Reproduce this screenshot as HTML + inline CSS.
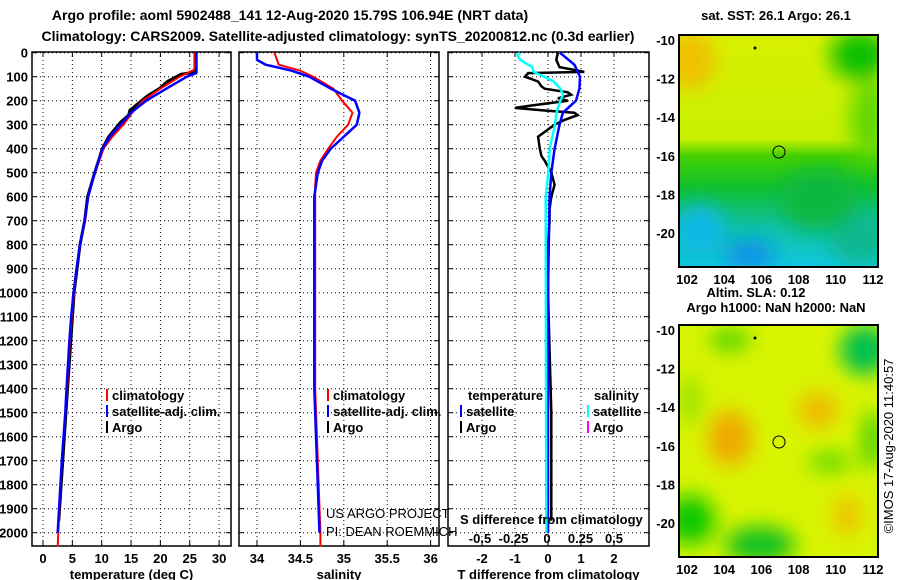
<!DOCTYPE html>
<html><head><meta charset="utf-8"><style>
html,body{margin:0;padding:0;background:#fff;}
svg{display:block;font-family:"Liberation Sans",sans-serif;}
.b{font-weight:bold;font-size:13px;}
.t{font-weight:bold;font-size:14px;}
</style></head><body>
<svg id="c" width="900" height="580" viewBox="0 0 900 580">
<defs>
<linearGradient id="sstg" x1="0" y1="0" x2="0" y2="1">
<stop offset="0" stop-color="#d8f000"/><stop offset="0.45" stop-color="#c8f000"/>
<stop offset="0.52" stop-color="#44d000"/><stop offset="0.66" stop-color="#10c030"/>
<stop offset="0.82" stop-color="#10c0a0"/><stop offset="1" stop-color="#10c8e0"/></linearGradient>
<filter id="bl" x="-50%" y="-50%" width="200%" height="200%"><feGaussianBlur stdDeviation="10"/></filter>
<clipPath id="m1"><rect x="679" y="35" width="199" height="232"/></clipPath>
<clipPath id="m2"><rect x="679" y="325" width="199" height="232"/></clipPath>
</defs>
<text class="t" x="290" y="20" text-anchor="middle">Argo profile: aoml 5902488_141 12-Aug-2020 15.79S 106.94E (NRT data)</text>
<text class="t" x="338" y="41" text-anchor="middle">Climatology: CARS2009. Satellite-adjusted climatology: synTS_20200812.nc (0.3d earlier)</text>
<g id="plots"></g>
<g clip-path="url(#m1)">
<rect x="679" y="35" width="199" height="232" fill="url(#sstg)"/>
<g filter="url(#bl)">
<ellipse cx="690" cy="60" rx="25" ry="30" fill="#f0c000"/>
<ellipse cx="860" cy="55" rx="30" ry="25" fill="#10c000"/>
<ellipse cx="870" cy="120" rx="20" ry="40" fill="#60d800"/>
<ellipse cx="750" cy="255" rx="25" ry="15" fill="#1090e8"/>
<ellipse cx="700" cy="230" rx="25" ry="25" fill="#10b8e8"/>
<ellipse cx="860" cy="240" rx="30" ry="25" fill="#10b890"/>
<ellipse cx="820" cy="200" rx="40" ry="30" fill="#10b840"/>
</g>
</g>
<rect x="679" y="35" width="199" height="232" fill="none" stroke="#000" stroke-width="2"/>
<circle cx="779" cy="152" r="6" fill="none" stroke="#000"/>
<circle cx="755" cy="48" r="1.5" fill="#000"/>
<g clip-path="url(#m2)">
<rect x="679" y="325" width="199" height="232" fill="#d8f400"/>
<g filter="url(#bl)">
<ellipse cx="730" cy="438" rx="22" ry="28" fill="#f0a800"/>
<ellipse cx="818" cy="410" rx="20" ry="18" fill="#f0b800"/>
<ellipse cx="847" cy="515" rx="14" ry="20" fill="#f0c000"/>
<ellipse cx="865" cy="350" rx="25" ry="25" fill="#00c050"/>
<ellipse cx="690" cy="520" rx="25" ry="25" fill="#10c800"/>
<ellipse cx="760" cy="545" rx="35" ry="18" fill="#10c020"/>
<ellipse cx="830" cy="462" rx="22" ry="10" fill="#60d800"/>
<ellipse cx="872" cy="440" rx="10" ry="30" fill="#40d000"/>
<ellipse cx="730" cy="340" rx="20" ry="10" fill="#40d000"/>
<ellipse cx="690" cy="400" rx="10" ry="25" fill="#90e000"/>
</g>
</g>
<rect x="679" y="325" width="199" height="232" fill="none" stroke="#000" stroke-width="2"/>
<circle cx="779" cy="442" r="6" fill="none" stroke="#000"/>
<circle cx="755" cy="338" r="1.5" fill="#000"/>
<text class="b" x="776" y="20" text-anchor="middle">sat. SST: 26.1 Argo: 26.1</text>
<text class="b" x="756" y="297" text-anchor="middle">Altim. SLA: 0.12</text>
<text class="b" x="776" y="312" text-anchor="middle">Argo h1000: NaN h2000: NaN</text>
<text x="893" y="446" font-size="13" text-anchor="middle" transform="rotate(-90 893 446)">©IMOS 17-Aug-2020 11:40:57</text>
</svg>
<script>
const depthTicks=[0,100,200,300,400,500,600,700,800,900,1000,1100,1200,1300,1400,1500,1600,1700,1800,1900,2000];
const tTicks=[0,5,10,15,20,25,30];
const sTicks=[34,34.5,35,35.5,36];
const dTicks=[-2,-1,0,1,2];
const sdTickLabels=['-0.5','-0.25','0','0.25','0.5'];
const sdTicks=[-0.5,-0.25,0,0.25,0.5];
const latTicks=[-10,-12,-14,-16,-18,-20];
const lonTicks=[102,104,106,108,110,112];
const tClimDepth=[0,70,100,150,200,250,300,350,400,500,600,700,800,900,1000,1100,1200,1400,1500,1700,2000,2057];
const tClim=[25.8,25.8,23.3,20,17,15.2,13.7,11.8,10.3,8.9,7.7,7.2,6.3,5.7,5.3,4.9,4.6,4.1,3.8,3.2,2.6,2.5];
const tSatDepth=[0,85,100,150,200,250,300,350,400,500,600,700,800,900,1000,1100,1200,1400,1500,1700,2000];
const tSat=[26.1,26.1,24.5,21,17.6,15,13.2,11.4,10.1,8.8,7.7,7.1,6.3,5.7,5.2,4.8,4.5,4.0,3.8,3.2,2.5];
const tArgoDepth=[0,80,90,120,150,180,200,240,260,290,320,350,400,500,600,700,800,1000,1500,1950];
const tArgo=[26.1,26.1,23.5,21.2,19.8,17.8,16.8,14.8,14.6,13.2,12.2,11.2,10.1,8.8,7.6,7.1,6.3,5.3,3.9,2.7];
const sClimDepth=[0,50,75,100,150,200,250,300,350,400,450,500,550,600,1400,2000,2057];
const sClim=[34.2,34.25,34.5,34.65,34.88,34.98,35.1,35.05,34.92,34.82,34.73,34.68,34.67,34.67,34.67,34.73,34.73];
const sSatDepth=[0,30,50,75,100,150,200,250,300,350,400,450,500,600,1400,2000];
const sSat=[34.0,34.0,34.1,34.4,34.6,34.85,35.13,35.18,35.15,35.0,34.85,34.75,34.7,34.66,34.66,34.72];
const dtSatDepth=[0,50,100,150,200,250,300,400,500,600,1000,2000];
const dtSat=[0.36,0.8,0.97,0.95,0.85,0.45,0.35,0.2,0.1,0.05,0,0];
const dtArgoDepth=[0,30,60,80,85,100,120,140,150,165,175,190,200,220,230,240,250,260,280,300,320,350,400,430,450,500,550,600,650,700,800,1000,1500,1950];
const dtArgo=[0.3,0.25,0.35,1.1,-0.6,-0.7,-0.3,-0.2,-0.1,0.6,0.7,0.3,0.6,-0.5,-1.0,-0.2,0.8,0.9,0.5,0.2,0.0,-0.3,-0.25,-0.2,-0.1,0.1,0.2,0.1,0.05,0.05,0,0,0.1,0.1];
const dsSatDepth=[0,10,30,60,80,100,120,150,175,200,250,300,350,400,500,600,2000];
const dsSat=[-0.2,-0.22,-0.2,-0.11,-0.1,-0.02,0.05,0.1,0.12,0.1,0.07,0.06,0.04,0.02,0.01,-0.01,-0.005];

const NS='http://www.w3.org/2000/svg';
const root=document.getElementById('plots');
function el(tag,attrs,parent){const e=document.createElementNS(NS,tag);for(const k in attrs)e.setAttribute(k,attrs[k]);(parent||root).appendChild(e);return e;}
const Y=d=>52.7+d*0.24;
const TOPY=52,BOTY=546;
const panels=[
 {x0:32,x1:231,X:v=>43+v*5.87,ticks:tTicks,lab:tTicks.map(String),title:'temperature (deg C)',name:'temperature-panel'},
 {x0:239,x1:439,X:v=>257+(v-34)*86.8,ticks:sTicks,lab:sTicks.map(String),title:'salinity',name:'salinity-panel'},
 {x0:448,x1:649,X:v=>548+v*33,ticks:dTicks,lab:dTicks.map(String),title:'T difference from climatology',name:'difference-panel'}
];
const SD=v=>547+v*134;
panels.forEach(p=>{
 const g=el('g',{});
 
 
 p.g=g;
 p.ticks.forEach((t,i)=>{
  const l=el('line',{x1:p.X(t),x2:p.X(t),y1:TOPY,y2:BOTY,stroke:'#000','stroke-dasharray':'1 3'},g);
  
  
  el('line',{x1:p.X(t),x2:p.X(t),y1:TOPY,y2:TOPY+5,stroke:'#000'},g);
  el('line',{x1:p.X(t),x2:p.X(t),y1:BOTY,y2:BOTY-5,stroke:'#000'},g);
  const tx=el('text',{x:p.X(t),y:563,'text-anchor':'middle',class:'b'},g);
  tx.textContent=p.lab[i];
  
  
 });
 depthTicks.forEach(d=>{
  const l=el('line',{x1:p.x0,x2:p.x1,y1:Y(d),y2:Y(d),stroke:'#000','stroke-dasharray':'1 3'},g);
  
  
  el('line',{x1:p.x0,x2:p.x0+5,y1:Y(d),y2:Y(d),stroke:'#000'},g);
  el('line',{x1:p.x1,x2:p.x1-5,y1:Y(d),y2:Y(d),stroke:'#000'},g);
 });
 const fr=el('rect',{x:p.x0,y:TOPY,width:p.x1-p.x0,height:BOTY-TOPY,fill:'none',stroke:'#000','stroke-width':1.5},g);
 
 
 const tt=el('text',{x:(p.x0+p.x1)/2,y:579,'text-anchor':'middle',class:'b'},g);
 tt.textContent=p.title;
 
 
});
depthTicks.forEach(d=>{
 const t=el('text',{x:28,y:Y(d)+5,'text-anchor':'end',class:'b'});
 t.textContent=String(d);
 
 
});
function line(ds,vs,X,color,w,name,g){
 const pts=ds.map((d,i)=>X(vs[i]).toFixed(1)+','+Y(d).toFixed(1)).join(' ');
 const e=el('polyline',{points:pts,fill:'none',stroke:color,'stroke-width':w},g);
 
 
}
const P=panels;
line(tArgoDepth,tArgo,P[0].X,'#000',3,'argo-temperature-line',P[0].g);
line(tClimDepth,tClim,P[0].X,'#f00',2,'climatology-temperature-line',P[0].g);
line(tSatDepth,tSat,P[0].X,'#00f',2.5,'satellite-temperature-line',P[0].g);
line(sClimDepth,sClim,P[1].X,'#f00',2,'climatology-salinity-line',P[1].g);
line(sSatDepth,sSat,P[1].X,'#00f',2.5,'satellite-salinity-line',P[1].g);
line(dtArgoDepth,dtArgo,P[2].X,'#000',2.5,'argo-temperature-difference-line',P[2].g);
line(dtSatDepth,dtSat,P[2].X,'#00f',2.5,'satellite-temperature-difference-line',P[2].g);
line(dsSatDepth,dsSat,SD,'#0ff',2.5,'satellite-salinity-difference-line',P[2].g);
function leg(x,y,color,label,name){
 el('line',{x1:x,x2:x,y1:y-11,y2:y+1,stroke:color,'stroke-width':2});
 const t=el('text',{x:x+5,y:y,class:'b'});
 t.textContent=label;
 
 
}
[107,328].forEach(x=>leg(x,400,'#f00','climatology','legend-climatology'));
[107,328].forEach(x=>leg(x,416,'#00f','satellite-adj. clim.','legend-satellite-adj'));
[107,328].forEach(x=>leg(x,432,'#000','Argo','legend-argo'));
leg(461,416,'#00f','satellite','legend-t-satellite');
leg(461,432,'#000','Argo','legend-t-argo');
leg(588,416,'#0ff','satellite','legend-s-satellite');
leg(588,432,'#f0f','Argo','legend-s-argo');
function txt(x,y,s,cls,name,anchor,extra){const t=el('text',Object.assign({x:x,y:y,'text-anchor':anchor||'start'},cls?{class:cls}:{},extra||{}));t.textContent=s;return t;}
txt(468,400,'temperature','b','legend-temperature-header');
txt(594,400,'salinity','b','legend-salinity-header');
txt(326,518,'US ARGO PROJECT',null,'project-credit','start',{'font-size':'13'});
txt(326,536,'PI: DEAN ROEMMICH',null,'pi-credit','start',{'font-size':'13'});
txt(460,524,'S difference from climatology','b','s-diff-axis-title');
sdTicks.forEach((v,i)=>txt(SD(v),543,sdTickLabels[i],'b','s-diff-tick-label','middle'));
[[35,267,40],[325,557,330]].forEach(m=>{
 latTicks.forEach(la=>{
  const y=m[2]+(-10-la)*19.3;
  el('line',{x1:679,x2:684,y1:y,y2:y,stroke:'#000'});
  el('line',{x1:878,x2:873,y1:y,y2:y,stroke:'#000'});
  txt(675,y+5,String(la),'b','lat-tick-label','end');
 });
 lonTicks.forEach(lo=>{
  const x=687+(lo-102)*18.6;
  el('line',{x1:x,x2:x,y1:m[1],y2:m[1]-5,stroke:'#000'});
  el('line',{x1:x,x2:x,y1:m[0],y2:m[0]+5,stroke:'#000'});
  txt(x,m[1]+17,String(lo),'b','lon-tick-label','middle');
 });
});
</script>
</body></html>
